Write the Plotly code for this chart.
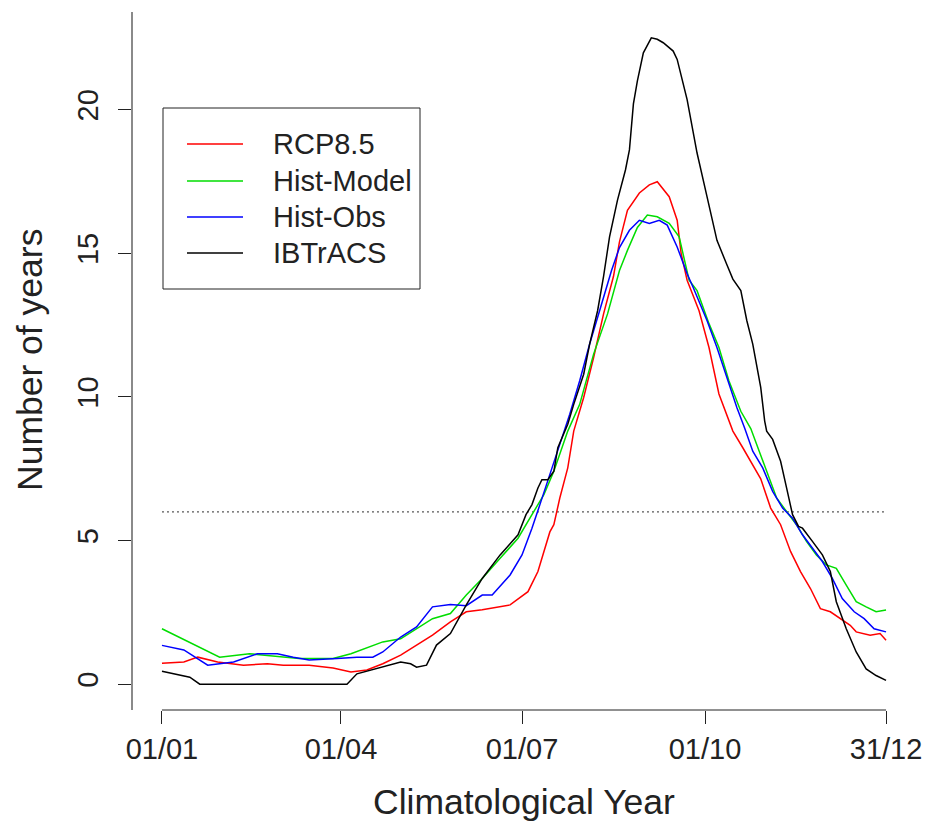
import plotly.graph_objects as go

# ---- data (day of year, number of years) ----
rcp_days = [1, 12, 19, 29, 42, 54, 62, 75, 87, 96, 104, 112, 121, 129, 137, 146, 154, 162, 171, 176,
            185, 190, 196, 198, 201, 205, 208, 213, 218, 223, 228, 231, 235, 241, 246, 250, 256, 260,
            262, 265, 271, 276, 281, 288, 293, 298, 302, 307, 312, 317, 322, 327, 332, 337, 342, 347,
            350, 357, 362, 365]
rcp_vals = [0.73, 0.77, 0.94, 0.77, 0.66, 0.71, 0.66, 0.66, 0.56, 0.42, 0.49, 0.71, 1.01, 1.36, 1.71,
            2.17, 2.52, 2.59, 2.69, 2.76, 3.22, 3.92, 5.3, 5.55, 6.48, 7.53, 8.81, 9.98, 11.37, 12.89,
            14.2, 15.4, 16.5, 17.1, 17.38, 17.49, 16.97, 16.15, 14.99, 14.06, 13.0, 11.72, 10.1, 8.81,
            8.23, 7.65, 7.15, 6.13, 5.55, 4.62, 3.92, 3.33, 2.63, 2.52, 2.28, 2.05, 1.82, 1.7, 1.76, 1.53]

model_days = [1, 30, 45, 70, 87, 96, 112, 121, 137, 146, 154, 162, 171, 180, 187, 193, 198, 205, 211,
              218, 225, 231, 235, 240, 245, 250, 256, 261, 266, 270, 276, 281, 286, 292, 297, 300, 305,
              310, 315, 320, 325, 330, 335, 340, 345, 350, 355, 360, 365]
model_vals = [1.93, 0.94, 1.06, 0.89, 0.89, 1.06, 1.47, 1.58, 2.28, 2.46, 3.1, 3.68, 4.38, 5.08, 5.9,
              6.6, 7.41, 8.81, 9.74, 11.49, 12.89, 14.4, 15.1, 15.9, 16.33, 16.27, 16.04, 15.57, 14.06,
              13.7, 12.55, 11.72, 10.56, 9.5, 8.9, 8.35, 7.41, 6.48, 6.01, 5.55, 4.97, 4.5, 4.15, 4.03,
              3.45, 2.87, 2.69, 2.52, 2.58]

obs_days = [1, 12, 24, 37, 49, 59, 67, 75, 89, 99, 107, 112, 121, 129, 137, 146, 154, 162, 167, 176,
            182, 187, 191, 196, 201, 206, 211, 216, 221, 227, 231, 236, 241, 246, 251, 255, 260, 265,
            268, 275, 280, 285, 290, 294, 298, 303, 308, 313, 318, 323, 328, 333, 338, 343, 349, 354,
            359, 365]
obs_vals = [1.35, 1.19, 0.66, 0.77, 1.06, 1.06, 0.94, 0.84, 0.89, 0.94, 0.94, 1.12, 1.64, 1.99, 2.69,
            2.77, 2.73, 3.1, 3.1, 3.8, 4.5, 5.43, 6.25, 7.3, 8.35, 9.4, 10.56, 11.84, 13.0, 14.4, 15.2,
            15.8, 16.15, 16.04, 16.15, 15.98, 15.22, 14.29, 13.82, 12.66, 11.72, 10.67, 9.63, 8.9, 8.11,
            7.53, 6.71, 6.13, 5.78, 5.2, 4.73, 4.27, 3.68, 2.98, 2.52, 2.28, 1.93, 1.82]

ib_days = [1, 15, 20, 94, 99, 112, 121, 126, 129, 134, 139, 146, 154, 162, 171, 180, 184, 187, 190,
           192, 195, 198, 200, 205, 208, 213, 216, 220, 223, 226, 230, 234, 236, 238, 240, 243, 247,
           250, 253, 258, 260, 265, 270, 275, 280, 285, 288, 292, 295, 298, 302, 304, 305, 308, 312,
           315, 318, 321, 323, 328, 333, 337, 340, 345, 350, 355, 360, 365]
ib_vals = [0.45, 0.24, 0.0, 0.0, 0.36, 0.59, 0.77, 0.71, 0.59, 0.66, 1.36, 1.76, 2.76, 3.68, 4.5, 5.2,
           5.9, 6.25, 6.83, 7.12, 7.12, 7.41, 8.23, 9.05, 9.74, 10.79, 11.84, 13.0, 14.2, 15.57, 16.85,
           17.9, 18.6, 20.2, 21.0, 21.98, 22.5, 22.45, 22.33, 22.04, 21.75, 20.35, 18.49, 16.97, 15.45,
           14.6, 14.1, 13.7, 12.66, 11.84, 10.33, 9.16, 8.81, 8.52, 7.76, 6.83, 5.9, 5.49, 5.43, 4.97,
           4.5, 3.92, 2.87, 1.93, 1.12, 0.53, 0.3, 0.13]

threshold = 6
day_range = [1, 365]
tick_days = [1, 91, 182, 274, 365]
tick_text = ["01/01", "01/04", "01/07", "01/10", "31/12"]
y_ticks = [0, 5, 10, 15, 20]

series_names = ["RCP8.5", "Hist-Model", "Hist-Obs", "IBTrACS"]
series_days = [rcp_days, model_days, obs_days, ib_days]
series_vals = [rcp_vals, model_vals, obs_vals, ib_vals]
series_colors = ["#FF0000", "#00DD00", "#0000FF", "#000000"]

FONT = "Liberation Sans, Arial, sans-serif"
TXT = "#222222"
W, H = 927, 827
ML, MR, MT, MB = 133, 12, 12, 117
PW, PH = W - ML - MR, H - MT - MB


def px_x(p):
    return (p - ML) / PW


def px_y(p):
    return (H - MB - p) / PH


fig = go.Figure()

fig.add_trace(go.Scatter(x=day_range, y=[threshold, threshold], mode="lines",
                         line=dict(color="#555555", width=1.3, dash="2px,3px"),
                         showlegend=False, hoverinfo="skip"))

for name, d, v, c in zip(series_names, series_days, series_vals, series_colors):
    fig.add_trace(go.Scatter(x=d, y=v, mode="lines", name=name, showlegend=False,
                             line=dict(color=c, width=1.5)))

# legend box drawn in R style
shapes = [dict(type="line", xref="x", yref="paper", x0=day_range[0], x1=day_range[1],
               y0=0, y1=0, line=dict(color=TXT, width=1)),
          dict(type="rect", xref="paper", yref="paper", x0=px_x(163), x1=px_x(420),
               y0=px_y(289), y1=px_y(108), line=dict(color=TXT, width=1),
               fillcolor="white", layer="above")]
annotations = []
row_px = [144, 181, 217, 253]
for name, c, ry in zip(series_names, series_colors, row_px):
    shapes.append(dict(type="line", xref="paper", yref="paper", x0=px_x(187), x1=px_x(243),
                       y0=px_y(ry), y1=px_y(ry), line=dict(color=c, width=1.5), layer="above"))
    annotations.append(dict(text=name, xref="paper", yref="paper", x=px_x(271), y=px_y(ry),
                            xanchor="left", yanchor="middle", showarrow=False,
                            font=dict(size=29, family=FONT, color=TXT)))

annotations += [
    dict(text="Climatological Year", xref="paper", yref="paper", x=0.5, y=px_y(802),
         xanchor="center", yanchor="middle", showarrow=False,
         font=dict(size=35.5, family=FONT, color=TXT)),
    dict(text="Number of years", xref="paper", yref="paper", x=px_x(30), y=px_y(360),
         xanchor="center", yanchor="middle", showarrow=False, textangle=-90,
         font=dict(size=35.5, family=FONT, color=TXT)),
]

span = day_range[1] - day_range[0]
fig.update_layout(
    width=W, height=H,
    margin=dict(l=ML, r=MR, t=MT, b=MB, autoexpand=False),
    paper_bgcolor="white", plot_bgcolor="white",
    font=dict(family=FONT, color=TXT),
    showlegend=False,
    xaxis=dict(range=[day_range[0] - 0.04 * span, day_range[1] + 0.04 * span],
               tickvals=tick_days, ticktext=tick_text, automargin=False,
               ticks="outside", ticklen=13, tickcolor=TXT, tickwidth=1,
               showline=False, showgrid=False, zeroline=False,
               tickfont=dict(size=29, family=FONT, color=TXT)),
    yaxis=dict(range=[-0.9, 23.4], tickvals=y_ticks, automargin=False,
               ticks="outside", ticklen=13, tickcolor=TXT, tickwidth=1,
               showline=True, linecolor="#8a8a8a", linewidth=2,
               showgrid=False, zeroline=False, tickangle=-90, ticklabelstandoff=8,
               tickfont=dict(size=29, family=FONT, color=TXT)),
    shapes=shapes,
    annotations=annotations,
)

fig.write_html("out.html")
